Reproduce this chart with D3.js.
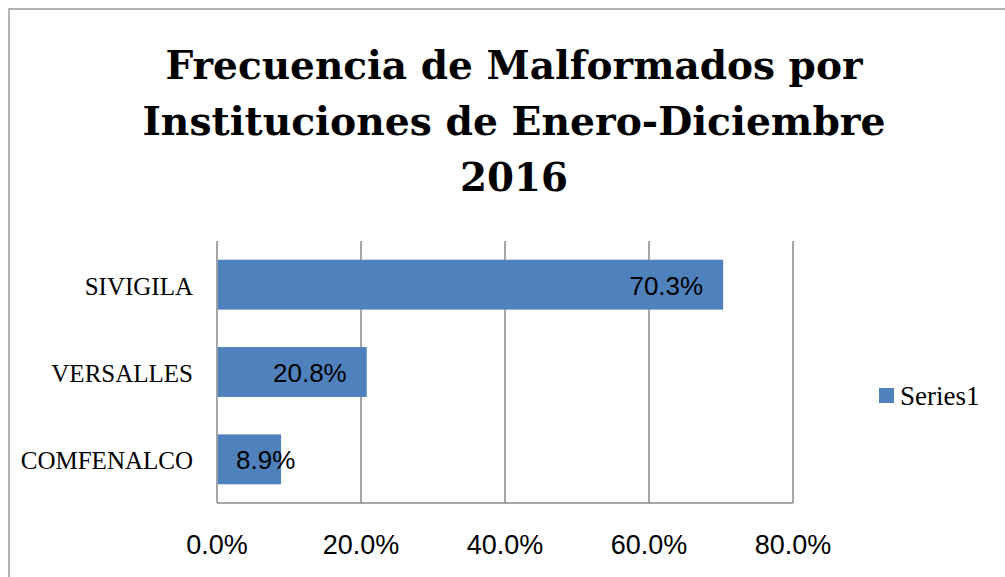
<!DOCTYPE html>
<html>
<head>
<meta charset="utf-8">
<script src="https://cdn.jsdelivr.net/npm/d3@7"></script>
<style>
  body { margin: 0; background: #fff; }
</style>
</head>
<body>
<div id="chart"></div>
<script>
  // Datos
  const categories = ["SIVIGILA", "VERSALLES", "COMFENALCO"];
  const values = [0.703, 0.208, 0.089];
  const ticks = [0, 0.2, 0.4, 0.6, 0.8];
  const titleLines = [
    "Frecuencia de Malformados por",
    "Instituciones de Enero-Diciembre",
    "2016"
  ];
  const seriesName = "Series1";

  const width = 1005,
    height = 577;
  const plot = { left: 217, right: 793, top: 241, bottom: 503 };
  const barColor = "#4F81BD";
  const gridColor = "#8a8a8a";
  const gap = 0.75 / 1.75; // Excel gap width 75%

  const svg = d3
    .select("#chart")
    .append("svg")
    .attr("width", width)
    .attr("height", height);

  // chart area border (runs off the right and bottom edge)
  svg
    .append("rect")
    .attr("x", 9)
    .attr("y", 9)
    .attr("width", width + 20)
    .attr("height", height + 20)
    .attr("fill", "#fff")
    .attr("stroke", "#9a9a9a")
    .attr("stroke-width", 1.5);

  // title
  const titleWidths = [697, 743, 108];
  const titleBase = [79, 135, 191];
  svg
    .append("g")
    .selectAll("text")
    .data(titleLines)
    .join("text")
    .attr("x", 514)
    .attr("y", (d, i) => titleBase[i])
    .attr("text-anchor", "middle")
    .attr("font-family", "'DejaVu Serif', serif")
    .attr("font-weight", "bold")
    .attr("font-size", 40)
    .attr("textLength", (d, i) => titleWidths[i])
    .attr("lengthAdjust", "spacingAndGlyphs")
    .text((d) => d);

  const x = d3.scaleLinear().domain([0, 0.8]).range([plot.left, plot.right]);
  const y = d3
    .scaleBand()
    .domain(categories)
    .range([plot.top, plot.bottom])
    .paddingInner(gap)
    .paddingOuter(gap / 2);

  // vertical gridlines
  svg
    .append("g")
    .selectAll("line")
    .data(ticks)
    .join("line")
    .attr("x1", (d) => x(d))
    .attr("x2", (d) => x(d))
    .attr("y1", plot.top)
    .attr("y2", plot.bottom)
    .attr("stroke", gridColor)
    .attr("stroke-width", 1.5);

  // bottom axis line
  svg
    .append("line")
    .attr("x1", plot.left)
    .attr("x2", plot.right)
    .attr("y1", plot.bottom)
    .attr("y2", plot.bottom)
    .attr("stroke", gridColor)
    .attr("stroke-width", 1.5);

  // bars
  svg
    .append("g")
    .selectAll("rect")
    .data(values)
    .join("rect")
    .attr("x", x(0) + 0.75)
    .attr("y", (d, i) => y(categories[i]))
    .attr("width", (d) => x(d) - x(0) - 0.75)
    .attr("height", y.bandwidth())
    .attr("fill", barColor);

  // data labels (inside end)
  const fmt = d3.format(".1%");
  const labels = svg
    .append("g")
    .selectAll("text")
    .data(values)
    .join("text")
    .attr("y", (d, i) => y(categories[i]) + y.bandwidth() / 2 + 10)
    .attr("font-family", "'Liberation Sans', Arial, sans-serif")
    .attr("font-size", 26)
    .attr("fill", "#000")
    .text((d) => fmt(d));
  labels.each(function (d) {
    const w = this.getComputedTextLength();
    const left = Math.max(x(0) + 19, x(d) - 20 - w);
    d3.select(this).attr("x", left);
  });

  // category labels
  svg
    .append("g")
    .selectAll("text")
    .data(categories)
    .join("text")
    .attr("x", plot.left - 24)
    .attr("y", (d) => y(d) + y.bandwidth() / 2 + 10)
    .attr("text-anchor", "end")
    .attr("font-family", "'Liberation Serif', serif")
    .attr("font-size", 25)
    .text((d) => d);

  // x tick labels
  svg
    .append("g")
    .selectAll("text")
    .data(ticks)
    .join("text")
    .attr("x", (d) => x(d))
    .attr("y", 554)
    .attr("text-anchor", "middle")
    .attr("font-family", "'Liberation Sans', Arial, sans-serif")
    .attr("font-size", 27)
    .text((d) => fmt(d));

  // legend
  const legend = svg.append("g").attr("transform", "translate(879,388)");
  legend
    .append("rect")
    .attr("width", 15)
    .attr("height", 15)
    .attr("fill", barColor);
  legend
    .append("text")
    .attr("x", 21)
    .attr("y", 17)
    .attr("font-family", "'Liberation Serif', serif")
    .attr("font-size", 27)
    .text(seriesName);
</script>
</body>
</html>
